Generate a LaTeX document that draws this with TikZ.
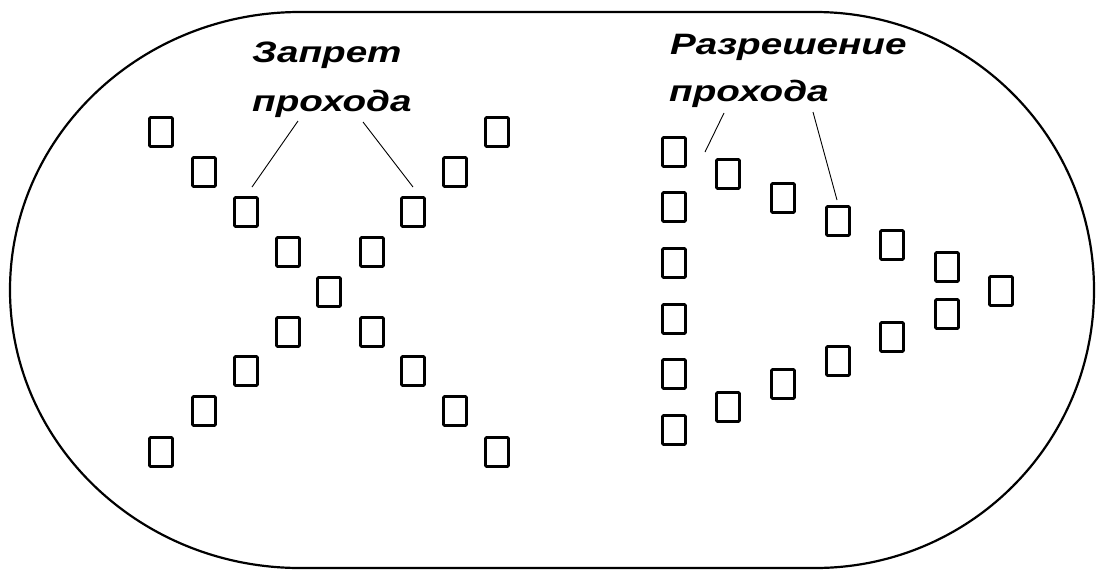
\documentclass[tikz,border=0pt]{standalone}
\usepackage{fontspec}
\usepackage{graphicx}
\newfontfamily\lblfont{Liberation Sans}
\tikzset{
  sq/.style={draw=black, line width=2.8pt, rounded corners=1.2pt, minimum width=23pt, minimum height=29pt, inner sep=0pt},
  lbl/.style={anchor=base west, inner sep=0pt, font=\lblfont\bfseries\itshape\fontsize{29.5}{29.5}\selectfont},
  leader/.style={draw=black, line width=0.9pt},
  outline/.style={draw=black, line width=2.2pt}
}
\newcommand{\wide}[1]{\scalebox{1.31}[1]{#1}}
\begin{document}
\begin{tikzpicture}[x=1pt,y=-1pt]
\useasboundingbox (0,0) rectangle (1097,571);
% outer stadium
\draw[outline] (300,12) -- (815,12)
  .. controls (969.6,12) and (1094,136.5) .. (1094,290)
  .. controls (1094,443.5) and (969.6,568) .. (815,568)
  -- (300,568)
  .. controls (140,568) and (10,443.5) .. (10,290)
  .. controls (10,136.5) and (140,12) .. (300,12) -- cycle;
% X group
\node[sq] (xa1) at (161,132) {};
\node[sq] (xa2) at (204,172) {};
\node[sq] (xa3) at (246,212) {};
\node[sq] (xa4) at (288,252) {};
\node[sq] (xc)  at (329,292) {};
\node[sq] (xa6) at (372,332) {};
\node[sq] (xa7) at (413,371) {};
\node[sq] (xa8) at (455,411) {};
\node[sq] (xa9) at (497,452) {};
\node[sq] (xb1) at (497,132) {};
\node[sq] (xb2) at (455,172) {};
\node[sq] (xb3) at (413,212) {};
\node[sq] (xb4) at (372,252) {};
\node[sq] (xb6) at (288,332) {};
\node[sq] (xb7) at (246,371) {};
\node[sq] (xb8) at (204,411) {};
\node[sq] (xb9) at (161,452) {};
% arrow group
\node[sq] (c1) at (674,152) {};
\node[sq] (c2) at (674,207) {};
\node[sq] (c3) at (674,263) {};
\node[sq] (c4) at (674,319) {};
\node[sq] (c5) at (674,374) {};
\node[sq] (c6) at (674,430) {};
\node[sq] (u1) at (728,174) {};
\node[sq] (u2) at (783,198) {};
\node[sq] (u3) at (838,221) {};
\node[sq] (u4) at (892,245) {};
\node[sq] (u5) at (947,267) {};
\node[sq] (tip) at (1001,291) {};
\node[sq] (l5) at (947,314) {};
\node[sq] (l4) at (892,337) {};
\node[sq] (l3) at (838,361) {};
\node[sq] (l2) at (783,384) {};
\node[sq] (l1) at (728,407) {};
% labels
\node[lbl] (t1) at (252,62) {\wide{Запрет}};
\node[lbl] (t2) at (252,111) {\wide{прохода}};
\node[lbl] (t3) at (670,54) {\wide{Разрешение}};
\node[lbl] (t4) at (669,101) {\wide{прохода}};
% leaders
\coordinate (p1s) at (298,121); \coordinate (p1e) at (252,187);
\coordinate (p2s) at (363,122); \coordinate (p2e) at (413,187);
\coordinate (p3s) at (724,113); \coordinate (p3e) at (705,152);
\coordinate (p4s) at (813,112); \coordinate (p4e) at (837,200);
\draw[leader] (p1s) -- (p1e);
\draw[leader] (p2s) -- (p2e);
\draw[leader] (p3s) -- (p3e);
\draw[leader] (p4s) -- (p4e);
\end{tikzpicture}
\end{document}
